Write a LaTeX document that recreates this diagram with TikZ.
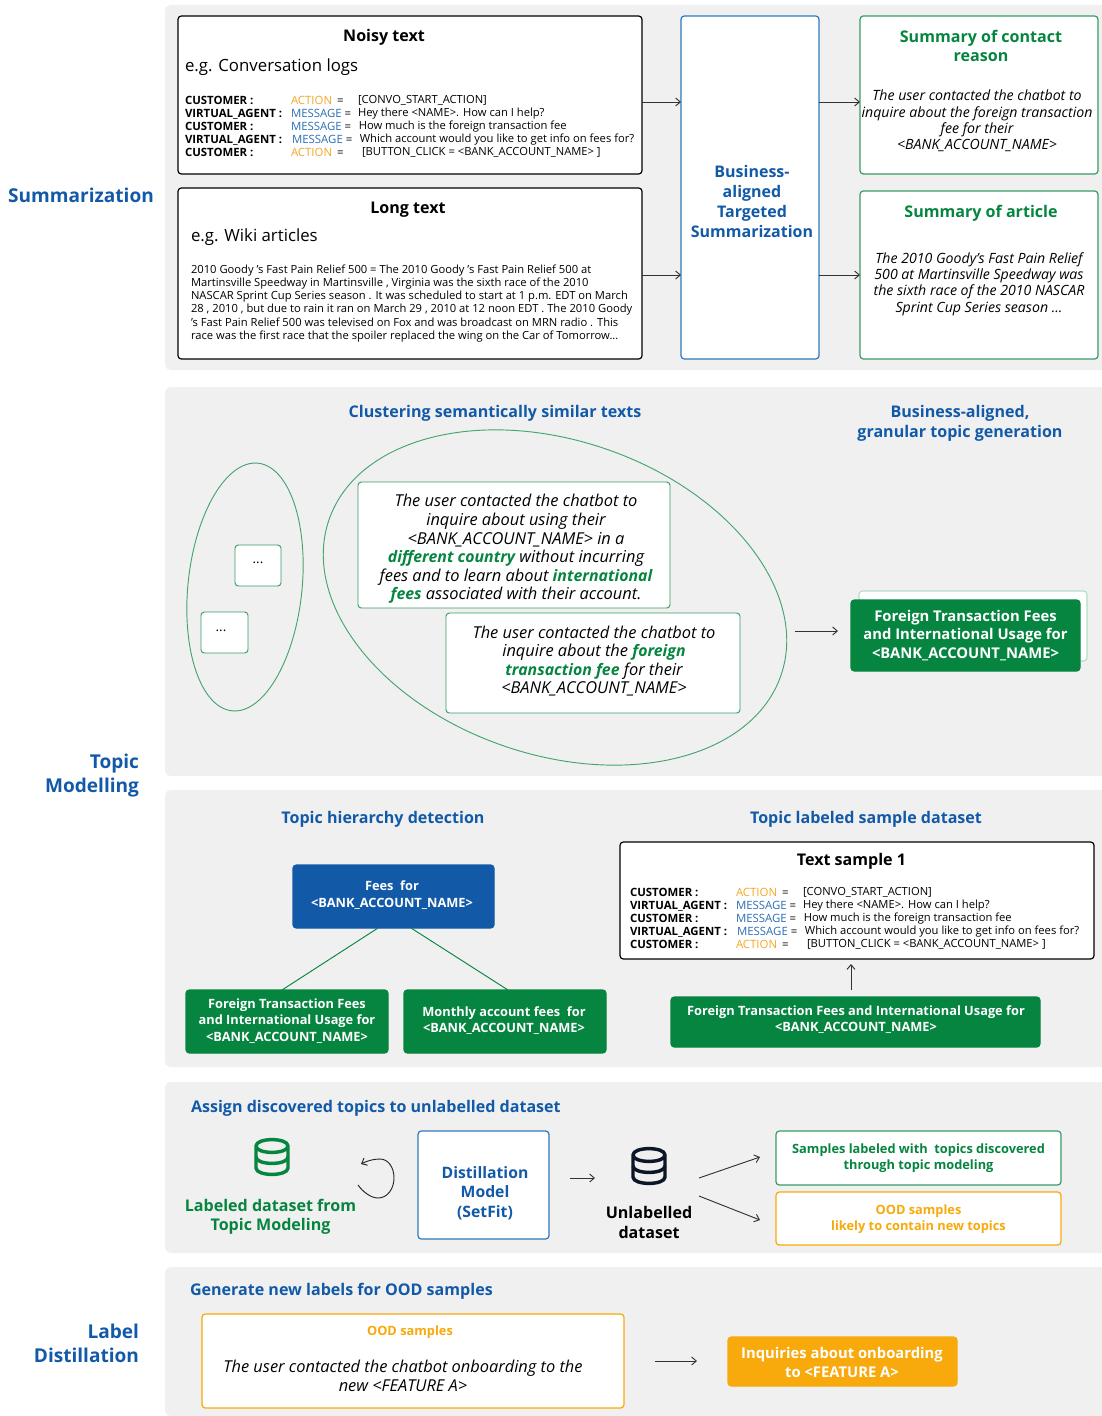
\documentclass[tikz,border=0pt]{standalone}
\usepackage{fontspec}
\setmainfont{Open Sans}
\usetikzlibrary{arrows.meta,shapes.geometric,positioning}
\definecolor{panelgrey}{HTML}{F0F0F0}
\definecolor{hblue}{HTML}{125AA8}
\definecolor{bblue}{HTML}{2F78BE}
\definecolor{hgreen}{HTML}{05853F}
\definecolor{lgreen}{HTML}{B4DCC5}
\definecolor{horange}{HTML}{F8A90B}
\definecolor{aorange}{HTML}{F5A623}
\definecolor{mblue}{HTML}{2A6FB5}
\definecolor{navy}{HTML}{0B1626}
\newdimen\pxu \pxu=0.75pt
\newcommand{\gb}[1]{{\fontsize{11.9}{13.95}\selectfont\bfseries\color{hgreen}#1}}
\tikzset{
  x=0.75pt,y=-0.75pt,
  bx/.style n args={2}{draw,fill=white,rounded corners=2.5pt,minimum width=#1*\pxu,minimum height=#2*\pxu,anchor=north west,inner sep=0pt,outer sep=0pt,line width=0.9pt},
  txt/.style={inner sep=0pt,outer sep=0pt},
  ctr/.style={txt,align=center},
  hdg/.style={txt,font=\fontsize{14.3}{18}\selectfont\bfseries,text=hblue,align=center},
  sub/.style={txt,font=\fontsize{12.05}{14.6}\selectfont\bfseries,align=center},
  reg/.style={txt,font=\fontsize{12.6}{14.6}\selectfont,align=left,anchor=west},
  small/.style={txt,font=\fontsize{8.4}{9.83}\selectfont,align=left,anchor=west},
  smalla/.style={txt,font=\fontsize{8.55}{9.83}\selectfont,align=left,anchor=west},
  ital/.style={ctr,font=\fontsize{12.3}{13.95}\selectfont\itshape},
  itals/.style={ctr,font=\fontsize{10.6}{12.25}\selectfont\itshape},
  whitebold/.style={ctr,font=\fontsize{11.1}{13.7}\selectfont\bfseries,text=white},
  lbl/.style={ctr,font=\fontsize{9.6}{12.2}\selectfont\bfseries},
  tgt/.style={txt,font=\fontsize{12}{14.8}\selectfont\bfseries,text=hblue,align=center},
  ell/.style={draw=hgreen!75!white,ellipse,fill=none,inner sep=0pt,line width=0.7pt},
  arr/.style={draw=black!80,line width=0.7pt,-{Straight Barb[length=3.5pt,width=6pt]}},
}
\newcommand{\panel}[2]{\fill[panelgrey] (1102,#1) [rounded corners=4pt] -- (165,#1) -- (165,#2) [sharp corners] -- (1102,#2) -- cycle;}
\newcommand{\convblock}[3]{%
  \node[smalla,font=\fontsize{8.55}{9.83}\selectfont\bfseries] (#1a) at (#2,#3) {CUSTOMER :\\VIRTUAL\_AGENT :\\CUSTOMER :\\VIRTUAL\_AGENT :\\CUSTOMER :};
  \node[smalla] (#1b) at (#2+106,#3) {\textcolor{aorange}{ACTION} \,=\\\textcolor{mblue}{MESSAGE} =\\\textcolor{mblue}{MESSAGE} =\\\hspace*{0.8pt}\textcolor{mblue}{MESSAGE} =\\\textcolor{aorange}{ACTION} \,=};
  \node[small] (#1c) at (#2+173,#3) {[CONVO\_START\_ACTION]\\Hey there <NAME>. How can I help?\\\hspace*{0.6pt}How much is the foreign transaction fee\\\hspace*{1.4pt}Which account would you like to get info on fees for?\\\hspace*{3pt}[BUTTON\_CLICK = <BANK\_ACCOUNT\_NAME> ]};
}
\newcommand{\dbicon}[3]{%
  \begin{scope}[shift={(#1,#2)}]
    \draw[#3,line width=2.6pt,line join=round] (-16,-11) .. controls (-16,-19.5) and (16,-19.5) .. (16,-11) .. controls (16,-2.5) and (-16,-2.5) .. (-16,-11) -- (-16,11) .. controls (-16,19.5) and (16,19.5) .. (16,11) -- (16,-11);
    \draw[#3,line width=2.6pt] (-16,0) .. controls (-16,8.5) and (16,8.5) .. (16,0);
  \end{scope}}
\begin{document}
\begin{tikzpicture}
\useasboundingbox (0,0) rectangle (1102,1416);
\panel{5}{370}
\panel{387}{776}
\panel{790}{1067}
\panel{1082}{1253}
\panel{1267}{1416}
% side labels
\node[hdg] (lsum) at (81,195) {Summarization};
\node[hdg,align=right,anchor=east] (ltop) at (139,776) {Topic\\Modelling};
\node[hdg,align=right,anchor=east] (ldis) at (139,1343) {Label\\Distillation};
% panel 1
\node[bx={464}{158}] (noisy) at (178,16) {};
\node[sub] (noisyt) at (384,37.5) {Noisy text};
\node[reg] (noisye) at (185,67.5) {e.g. Conversation logs};
\convblock{ca}{185}{126.5}
\node[bx={464}{171}] (long) at (178,188) {};
\node[sub] (longt) at (408,209.5) {Long text};
\node[reg] (longe) at (191,237.5) {e.g. Wiki articles};
\node[small] (longb) at (191,303.5) {2010 Goody 's Fast Pain Relief 500 = The 2010 Goody 's Fast Pain Relief 500 at\\Martinsville Speedway in Martinsville , Virginia was the sixth race of the 2010\\NASCAR Sprint Cup Series season . It was scheduled to start at 1 p.m. EDT on March\\28 , 2010 , but due to rain it ran on March 29 , 2010 at 12 noon EDT . The 2010 Goody\\'s Fast Pain Relief 500 was televised on Fox and was broadcast on MRN radio . This\\race was the first race that the spoiler replaced the wing on the Car of Tomorrow...};
\node[bx={138}{343},draw=bblue] (bats) at (681,16) {};
\node[tgt] (batst) at (752,201.5) {Business-\\aligned\\Targeted\\Summarization};
\node[bx={238}{158},draw=hgreen!80!white] (sum1) at (860,16) {};
\node[sub,text=hgreen] (sum1t) at (981,46) {Summary of contact\\reason};
\node[itals] (sum1b) at (977,121) {The user contacted the chatbot to\\inquire about the foreign transaction\\fee for their\\<BANK\_ACCOUNT\_NAME>};
\node[bx={238}{168},draw=hgreen!80!white] (sum2) at (860,191) {};
\node[sub,text=hgreen] (sum2t) at (981,213.5) {Summary of article};
\node[itals] (sum2b) at (979,284) {The 2010 Goody's Fast Pain Relief\\500 at Martinsville Speedway was\\the sixth race of the 2010 NASCAR\\Sprint Cup Series season ...};
\draw[arr] (noisy.east |- 0,102) -- (bats.west |- 0,102);
\draw[arr] (long.east |- 0,275) -- (bats.west |- 0,275);
\draw[arr] (bats.east |- 0,102) -- (sum1.west |- 0,102);
\draw[arr] (bats.east |- 0,275) -- (sum2.west |- 0,275);
% panel 2
\node[sub,text=hblue] (h21) at (495,413.5) {Clustering semantically similar texts};
\node[sub,text=hblue] (h22) at (960,423.5) {Business-aligned,\\granular topic generation};
\node[ell,minimum width=114*\pxu,minimum height=249*\pxu,rotate=-6] (el1) at (245,587) {};
\node[ell,minimum width=478*\pxu,minimum height=314*\pxu,rotate=-19] (el2) at (555,597.5) {};
\node[bx={46}{41},draw=hgreen!80!white,line width=0.7pt] (dot1) at (235,545) {};
\node[txt,font=\fontsize{10}{12}\selectfont] (dot1t) at (258,563) {...};
\node[bx={47}{41},draw=hgreen!80!white,line width=0.7pt] (dot2) at (201,612) {};
\node[txt,font=\fontsize{10}{12}\selectfont] (dot2t) at (221,631) {...};
\node[bx={312}{126},draw=hgreen!80!white,line width=0.7pt] (t1) at (358,482) {};
\node[ital] (t1t) at (516,549) {The user contacted the chatbot to\\inquire about using their\\<BANK\_ACCOUNT\_NAME> in a\\\gb{different country} without incurring\\fees and to learn about \gb{international}\\\gb{fees} associated with their account.};
\node[bx={294}{100},draw=hgreen!80!white,line width=0.7pt] (t2) at (446,613) {};
\node[ital] (t2t) at (594,661) {The user contacted the chatbot to\\inquire about the \gb{foreign}\\\gb{transaction fee} for their\\<BANK\_ACCOUNT\_NAME>};
\coordinate (a2s) at (795,631);
\coordinate (a2e) at (838,631);
\draw[arr] (a2s) -- (a2e);
\node[bx={228}{70},draw=lgreen,line width=0.8pt] (back) at (859,591) {};
\node[bx={229}{71},draw=hgreen,fill=hgreen] (front) at (851,600) {};
\node[whitebold] (frontt) at (965.5,635.5) {Foreign Transaction Fees\\and International Usage for\\<BANK\_ACCOUNT\_NAME>};
% panel 3
\node[sub,text=hblue] (h31) at (383,819.5) {Topic hierarchy detection};
\node[sub,text=hblue] (h32) at (866,819.5) {Topic labeled sample dataset};
\node[bx={201}{63},draw=hblue,fill=hblue] (fees) at (293,865) {};
\node[lbl,text=white] (feest) at (392,895) {Fees\ \ for\\<BANK\_ACCOUNT\_NAME>};
\node[bx={202}{63},draw=hgreen,fill=hgreen] (ft) at (186,990) {};
\node[lbl,text=white] (ftt) at (287,1021) {Foreign Transaction Fees\\and International Usage for\\<BANK\_ACCOUNT\_NAME>};
\node[bx={202}{63},draw=hgreen,fill=hgreen] (mf) at (404,990) {};
\node[lbl,text=white] (mft) at (504,1020.5) {Monthly account fees\ \ for\\<BANK\_ACCOUNT\_NAME>};
\draw[hgreen,line width=0.7pt] (378,928) -- (282,990);
\draw[hgreen,line width=0.7pt] (411,928) -- (508,990);
\node[bx={474}{117}] (ts) at (620,842) {};
\node[sub] (tst) at (851.5,861.5) {Text sample 1};
\convblock{cb}{630}{918.5}
\node[bx={369}{50},draw=hgreen,fill=hgreen] (fi) at (671,997) {};
\node[lbl,text=white] (fit) at (856,1019.5) {Foreign Transaction Fees and International Usage for\\<BANK\_ACCOUNT\_NAME>};
\draw[arr] (851,990) -- (851,964);
% panel 4
\node[sub,text=hblue,anchor=west] (h4) at (191,1108.5) {Assign discovered topics to unlabelled dataset};
\dbicon{272}{1157}{hgreen}
\node[sub,text=hgreen] (dbg) at (270.5,1216.5) {Labeled dataset from\\Topic Modeling};
\coordinate (ls) at (358,1185);
\coordinate (le) at (361,1164);
\draw[draw=black!85,line width=0.7pt,-{Straight Barb[length=3.5pt,width=6pt]}] (ls) .. controls (363,1192) and (371,1198) .. (378,1198) .. controls (388,1198) and (394,1188) .. (394,1178) .. controls (394,1167) and (388,1159) .. (380,1159) .. controls (373,1159) and (367,1161) .. (le);
\node[bx={131}{108},draw=bblue] (dist) at (418,1131) {};
\node[tgt,font=\fontsize{11.8}{14.8}\selectfont\bfseries] (distt) at (485,1193) {Distillation\\Model\\(SetFit)};
\draw[arr] (570,1178) -- (595,1178);
\dbicon{649}{1166}{navy}
\node[sub] (dbb) at (649,1222.5) {Unlabelled\\dataset};
\coordinate (aa) at (699,1178);
\coordinate (ab) at (699,1196);
\coordinate (ac) at (760,1157);
\coordinate (ad) at (760,1220);
\draw[arr] (aa) -- (ac);
\draw[arr] (ab) -- (ad);
\node[bx={285}{54},draw=hgreen!80!white] (sg) at (776,1131) {};
\node[lbl,text=hgreen] (sgt) at (918.5,1158) {Samples labeled with\ \ topics discovered\\through topic modeling};
\node[bx={285}{53},draw=horange] (so) at (776,1192) {};
\node[lbl,text=horange] (sot) at (918.5,1219) {OOD samples\\likely to contain new topics};
% panel 5
\node[sub,text=hblue,anchor=west] (h5) at (190,1291.5) {Generate new labels for OOD samples};
\node[bx={422}{94},draw=horange] (ood) at (202,1314) {};
\node[lbl,text=horange] (oodt) at (410,1332.5) {OOD samples};
\node[ital] (oodb) at (403,1376) {The user contacted the chatbot onboarding to the\\new <FEATURE A>};
\coordinate (a5s) at (655,1361);
\coordinate (a5e) at (697,1361);
\draw[arr] (a5s) -- (a5e);
\node[bx={229}{49},draw=horange,fill=horange] (inq) at (728,1337) {};
\node[whitebold] (inqt) at (842,1362.5) {Inquiries about onboarding\\to <FEATURE A>};
\end{tikzpicture}
\end{document}
